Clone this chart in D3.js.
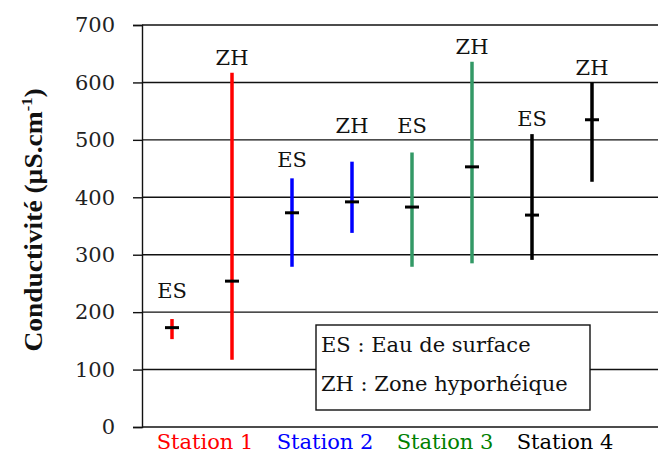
<!DOCTYPE html>
<html>
<head>
<meta charset="utf-8">
<script src="https://cdn.jsdelivr.net/npm/d3@7"></script>
<style>
  body { margin: 0; background: #fff; }
  svg { display: block; }
  .serif { font-family: "DejaVu Serif", "Liberation Serif", serif; }
</style>
</head>
<body>
<svg width="661" height="455"></svg>
<script>
// stations et types de prélèvement
var stations = ["Station 1", "Station 2", "Station 3", "Station 4"];
var sites = ["ES", "ZH"];

// conductivité (µS.cm-1) : min, max, moyenne
var esMin  = [153, 279, 279, 291];
var esMax  = [188, 433, 478, 510];
var esMean = [173, 373, 383, 369];
var zhMin  = [117, 338, 285, 427];
var zhMax  = [617, 462, 636, 600];
var zhMean = [254, 392, 453, 535];

// hauteur des étiquettes ES / ZH (en µS.cm-1)
var esLabelAt = [225, 453, 512, 524];
var zhLabelAt = [630, 512, 649, 613];

var yTicks = [0, 100, 200, 300, 400, 500, 600, 700];
var legendLines = ["ES : Eau de surface", "ZH : Zone hyporhéique"];

var barColors = ["#ff0000", "#0000ff", "#339966", "#000000"];
var labelColors = ["#ff0000", "#0000ff", "#008000", "#000000"];

var rows = [];
stations.forEach(function(s, i) {
  rows.push({ station: s, site: "ES", min: esMin[i], max: esMax[i], mean: esMean[i], labelAt: esLabelAt[i], color: barColors[i] });
  rows.push({ station: s, site: "ZH", min: zhMin[i], max: zhMax[i], mean: zhMean[i], labelAt: zhLabelAt[i], color: barColors[i] });
});

var svg = d3.select("svg");
var plotLeft = 142, plotRight = 658, plotTop = 25, plotBottom = 427;

var y = d3.scaleLinear().domain([0, 700]).range([plotBottom, plotTop]);
var x0 = d3.scaleBand().domain(stations).range([plotLeft, 622]);
var x1 = d3.scalePoint().domain(sites).range([0, x0.bandwidth()]).padding(0.5);
var bx = function(d) { return x0(d.station) + x1(d.site); };

// lignes de grille
svg.append("g")
  .selectAll("line")
  .data(yTicks)
  .enter().append("line")
  .attr("x1", plotLeft)
  .attr("x2", plotRight)
  .attr("y1", function(d) { return y(d); })
  .attr("y2", function(d) { return y(d); })
  .attr("stroke", "#111")
  .attr("stroke-width", 1.4);

// axe y
var yAxis = svg.append("g")
  .attr("transform", "translate(" + plotLeft + ",0)")
  .call(d3.axisLeft(y).tickValues(yTicks).tickSize(9).tickPadding(18));
yAxis.select(".domain").attr("stroke", "#111").attr("stroke-width", 1.4);
yAxis.selectAll(".tick line").attr("stroke", "#111").attr("stroke-width", 1.4);
yAxis.selectAll("text")
  .attr("class", "serif")
  .style("font-size", "21px")
  .attr("fill", "#222");

// titre de l'axe y
var title = svg.append("text")
  .attr("transform", "translate(42,220) rotate(-90) scale(1.1,1)")
  .attr("text-anchor", "middle")
  .style("font-family", "'Liberation Serif', serif")
  .style("font-weight", "bold")
  .style("font-size", "25px")
  .attr("fill", "#111");
title.append("tspan").text("Conductivité (µS.cm");
title.append("tspan").attr("dy", -10).style("font-size", "15px").text("-1");
title.append("tspan").attr("dy", 10).text(")");

// barres min-max
svg.append("g")
  .selectAll("line")
  .data(rows)
  .enter().append("line")
  .attr("x1", bx)
  .attr("x2", bx)
  .attr("y1", function(d) { return y(d.min); })
  .attr("y2", function(d) { return y(d.max); })
  .attr("stroke", function(d) { return d.color; })
  .attr("stroke-width", 3.5);

// moyennes
svg.append("g")
  .selectAll("line")
  .data(rows)
  .enter().append("line")
  .attr("x1", function(d) { return bx(d) - 7; })
  .attr("x2", function(d) { return bx(d) + 7; })
  .attr("y1", function(d) { return y(d.mean); })
  .attr("y2", function(d) { return y(d.mean); })
  .attr("stroke", "#000")
  .attr("stroke-width", 3);

// étiquettes ES / ZH
svg.append("g")
  .selectAll("text")
  .data(rows)
  .enter().append("text")
  .attr("class", "serif")
  .attr("x", bx)
  .attr("y", function(d) { return y(d.labelAt); })
  .attr("text-anchor", "middle")
  .style("font-size", "21px")
  .attr("fill", "#111")
  .text(function(d) { return d.site; });

// noms des stations
svg.append("g")
  .selectAll("text")
  .data(stations)
  .enter().append("text")
  .attr("class", "serif")
  .attr("x", function(d) { return x0(d) + x0.bandwidth() / 2 + 3; })
  .attr("y", 449)
  .attr("text-anchor", "middle")
  .style("font-size", "21px")
  .attr("fill", function(d, i) { return labelColors[i]; })
  .text(function(d) { return d; });

// légende
var legend = svg.append("g");
legend.append("rect")
  .attr("x", 316)
  .attr("y", 325)
  .attr("width", 274)
  .attr("height", 85)
  .attr("fill", "#fff")
  .attr("stroke", "#111")
  .attr("stroke-width", 1.4);
legend.selectAll("text")
  .data(legendLines)
  .enter().append("text")
  .attr("class", "serif")
  .attr("x", 321)
  .attr("y", function(d, i) { return 352 + i * 39; })
  .style("font-size", "21px")
  .attr("fill", "#111")
  .text(function(d) { return d; });
</script>
</body>
</html>
